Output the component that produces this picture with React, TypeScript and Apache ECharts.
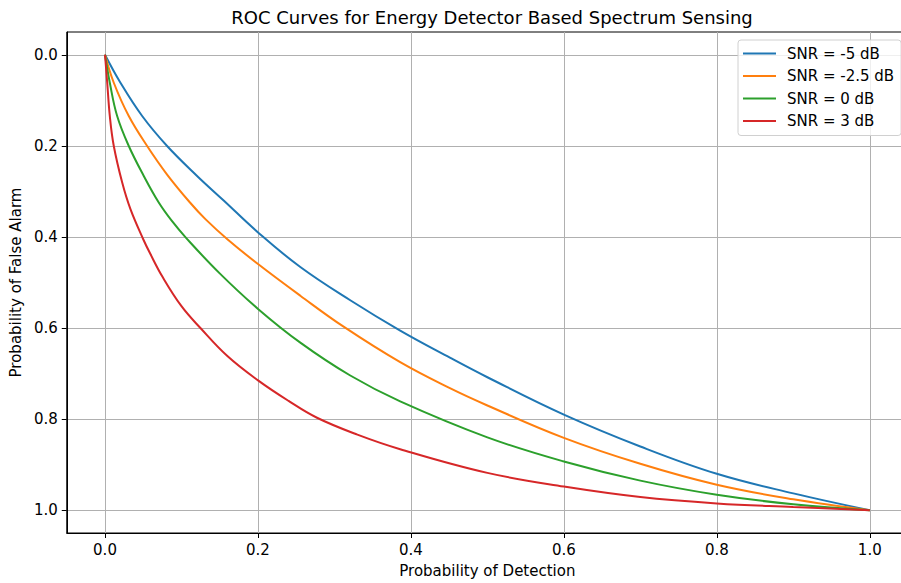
import React, { useEffect, useRef } from "react";
import * as echarts from "echarts";

const seriesNames = ["SNR = -5 dB", "SNR = -2.5 dB", "SNR = 0 dB", "SNR = 3 dB"];
const seriesColors = ["#1f77b4", "#ff7f0e", "#2ca02c", "#d62728"];

const snrM5X = [0, 0.0202, 0.0486, 0.0812, 0.1204, 0.1552, 0.2001, 0.2554, 0.3207, 0.386, 0.451, 0.5, 0.6, 0.7, 0.8, 0.9, 1.0];
const snrM5Y = [0, 0.0614, 0.1345, 0.2003, 0.266, 0.32, 0.39, 0.466, 0.539, 0.6056, 0.665, 0.708, 0.79, 0.86, 0.92, 0.963, 1.0];

const snrM25X = [0, 0.0115, 0.0311, 0.0551, 0.0812, 0.1117, 0.1313, 0.16, 0.2001, 0.2554, 0.312, 0.386, 0.451, 0.5, 0.6, 0.7, 0.8, 0.9, 1.0];
const snrM25Y = [0, 0.0614, 0.1345, 0.2003, 0.263, 0.3255, 0.3609, 0.405, 0.4595, 0.529, 0.597, 0.6749, 0.732, 0.77, 0.841, 0.898, 0.944, 0.976, 1.0];

const snr0X = [0, 0.0063, 0.0159, 0.0311, 0.0507, 0.0703, 0.088, 0.106, 0.15, 0.2001, 0.2554, 0.3207, 0.386, 0.5, 0.6, 0.7, 0.8, 0.9, 1.0];
const snr0Y = [0, 0.0614, 0.1345, 0.2003, 0.266, 0.3243, 0.366, 0.402, 0.48, 0.558, 0.632, 0.7042, 0.761, 0.84, 0.893, 0.935, 0.966, 0.987, 1.0];

const snr3X = [0, 0.0029, 0.0063, 0.0115, 0.0225, 0.0333, 0.05, 0.0594, 0.075, 0.1, 0.1248, 0.16, 0.2001, 0.24, 0.2772, 0.33, 0.386, 0.5, 0.6, 0.7, 0.8, 0.9, 1.0];
const snr3Y = [0, 0.061, 0.1345, 0.2003, 0.2805, 0.339, 0.405, 0.4376, 0.487, 0.552, 0.6, 0.6616, 0.715, 0.76, 0.797, 0.834, 0.866, 0.918, 0.948, 0.971, 0.985, 0.993, 1.0];

const tickValues = [0, 0.2, 0.4, 0.6, 0.8, 1.0];

const allX = [snrM5X, snrM25X, snr0X, snr3X];
const allY = [snrM5Y, snrM25Y, snr0Y, snr3Y];

const FONT = "DejaVu Sans";
const FS = 15;

export default function App() {
  const ref = useRef<HTMLDivElement>(null);
  useEffect(() => {
    document.body.style.margin = "0";
    document.body.style.overflow = "hidden";
    if (!ref.current) return;
    const chart = echarts.init(ref.current, undefined, { renderer: "svg" });
    const series = seriesNames.map((name, i) => ({
      name,
      type: "line",
      data: allX[i].map((x, j) => [x, allY[i][j]]),
      symbol: "none",
      smooth: 0.4,
      lineStyle: { color: seriesColors[i], width: 2 },
      itemStyle: { color: seriesColors[i] },
    }));
    const axisCommon = {
      type: "value",
      min: -0.05,
      max: 1.05,
      axisLine: { show: true, onZero: false, lineStyle: { color: "#000", width: 1 } },
      axisTick: { show: true, length: 5, lineStyle: { color: "#000", width: 1 }, customValues: tickValues },
      splitLine: { show: true, lineStyle: { color: "#b0b0b0", width: 1 } },
      nameLocation: "middle",
      nameTextStyle: { fontFamily: FONT, fontSize: FS, color: "#000" },
    };
    const labelCommon = {
      customValues: tickValues,
      margin: 9,
      fontFamily: FONT,
      fontSize: FS,
      color: "#000",
      formatter: (v: number) => v.toFixed(1),
    };
    chart.setOption({
      animation: false,
      backgroundColor: "#fff",
      title: {
        text: "ROC Curves for Energy Detector Based Spectrum Sensing",
        left: 487,
        textAlign: "center",
        top: 3,
        textStyle: { fontFamily: FONT, fontSize: 18, fontWeight: "normal", color: "#000" },
      },
      grid: {
        left: 66,
        top: 32,
        width: 842,
        height: 502,
        show: true,
        borderColor: "#000",
        borderWidth: 1,
        backgroundColor: "transparent",
      },
      legend: {
        orient: "vertical",
        left: 738,
        top: 40,
        padding: [5, 7, 6, 5],
        itemWidth: 33,
        itemHeight: 2,
        itemGap: 5.5,
        backgroundColor: "rgba(255,255,255,0.8)",
        borderColor: "#d0d0d0",
        borderWidth: 1,
        borderRadius: 3,
        textStyle: { fontFamily: FONT, fontSize: FS, color: "#000", lineHeight: 17, padding: [0, 0, 0, 6] },
        data: seriesNames.map((n, i) => ({ name: n, icon: "rect", itemStyle: { color: seriesColors[i] } })),
        itemStyle: { borderWidth: 0 },
      },
      xAxis: {
        ...axisCommon,
        name: "Probability of Detection",
        nameGap: 30,
        axisLabel: labelCommon,
      },
      yAxis: {
        ...axisCommon,
        inverse: true,
        name: "Probability of False Alarm",
        nameGap: 43,
        axisLabel: labelCommon,
      },
      series,
    });
    return () => chart.dispose();
  }, []);
  return <div ref={ref} style={{ position: "absolute", left: 0, top: 0, width: 910, height: 583 }} />;
}
